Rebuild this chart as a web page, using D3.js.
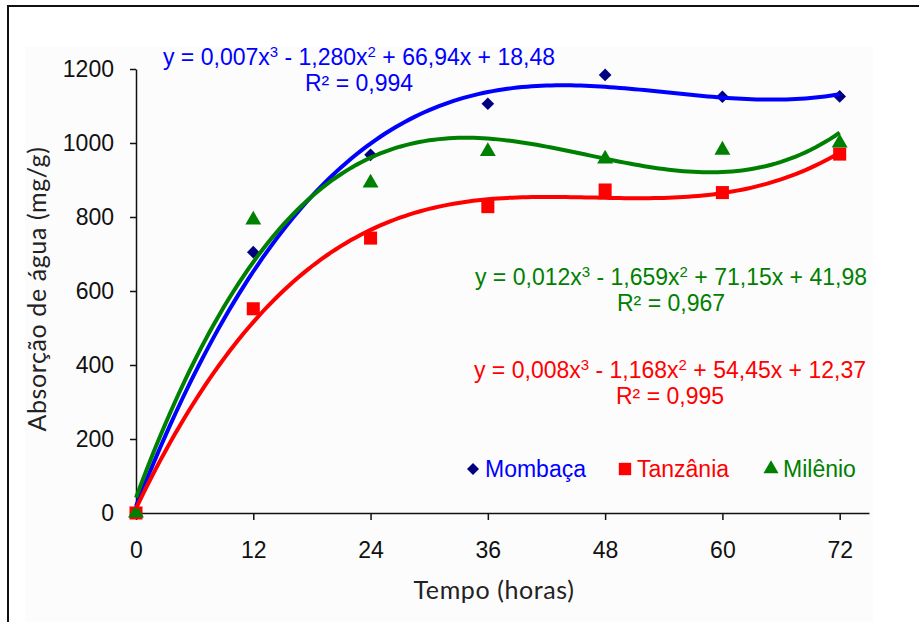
<!DOCTYPE html>
<html>
<head>
<meta charset="utf-8">
<script src="https://cdn.jsdelivr.net/npm/d3@7"></script>
<style>
  body { margin: 0; background: #fff; }
  text { font-family: "Liberation Sans", Arial, sans-serif; }
</style>
</head>
<body>
<div id="chart-area"></div>
<script>
// Data
const hours = [0, 12, 24, 36, 48, 60, 72]
const mombaca = [0, 705, 968, 1106, 1184, 1125, 1126]
const tanzania = [0, 552, 743, 828, 873, 866, 970]
const milenio = [0, 792, 892, 977, 957, 981, 1000]
const yTicks = [0, 200, 400, 600, 800, 1000, 1200]

const canvas = { width: 919, height: 622 }

const svg = d3.select('#chart-area')
  .append('svg')
    .attr('width', canvas.width)
    .attr('height', canvas.height)

// outer frame (runs off the right and bottom edges)
svg.append('rect')
  .attr('x', 8).attr('y', 6)
  .attr('width', 940).attr('height', 640)
  .attr('fill', '#fff')
  .attr('stroke', '#111')
  .attr('stroke-width', 2)
svg.append('rect')
  .attr('x', 25).attr('y', 47)
  .attr('width', 848).attr('height', 580)
  .attr('fill', '#fcfcfc')

// Scales
const x = d3.scaleLinear().domain([0, 75]).range([136, 869])
const y = d3.scaleLinear().domain([0, 1200]).range([513, 69])

// Axes
svg.append('g')
  .attr('transform', `translate(0, ${y(0)})`)
  .call(d3.axisBottom(x).tickValues(hours).tickSize(7).tickSizeOuter(0).tickPadding(22))
  .call(g => g.selectAll('text').attr('font-size', 23).attr('fill', '#111'))
svg.append('g')
  .attr('transform', `translate(${x(0)}, 0)`)
  .call(d3.axisLeft(y).tickValues(yTicks).tickFormat(d3.format('d')).tickSize(6).tickSizeOuter(0).tickPadding(16))
  .call(g => g.selectAll('text').attr('font-size', 23).attr('fill', '#111'))
svg.selectAll('.domain, .tick line').attr('stroke', '#111').attr('stroke-width', 1.5)

// Axis titles
svg.append('text')
  .attr('x', 494).attr('y', 599)
  .attr('text-anchor', 'middle')
  .attr('font-size', 25)
  .attr('letter-spacing', 0.6)
  .attr('fill', '#222')
  .style('font-family', 'Lato, sans-serif')
  .text('Tempo (horas)')
svg.append('text')
  .attr('transform', 'translate(46, 289) rotate(-90)')
  .attr('text-anchor', 'middle')
  .attr('font-size', 25)
  .attr('letter-spacing', 0.6)
  .attr('fill', '#222')
  .style('font-family', 'Lato, sans-serif')
  .text('Absorção de água (mg/g)')

// least squares cubic trend from the points
function cubicFit(xs, ys) {
  const n = 4
  const A = [], b = []
  for (let i = 0; i < n; i++) {
    A.push([])
    for (let j = 0; j < n; j++) A[i].push(d3.sum(xs, v => Math.pow(v, i + j)))
    b.push(d3.sum(xs, (v, k) => Math.pow(v, i) * ys[k]))
  }
  for (let c = 0; c < n; c++) {
    let p = c
    for (let r = c + 1; r < n; r++) if (Math.abs(A[r][c]) > Math.abs(A[p][c])) p = r;
    [A[c], A[p]] = [A[p], A[c]];
    [b[c], b[p]] = [b[p], b[c]]
    for (let r = c + 1; r < n; r++) {
      const f = A[r][c] / A[c][c]
      for (let k = c; k < n; k++) A[r][k] -= f * A[c][k]
      b[r] -= f * b[c]
    }
  }
  const coef = new Array(n).fill(0)
  for (let r = n - 1; r >= 0; r--) {
    let s = b[r]
    for (let k = r + 1; k < n; k++) s -= A[r][k] * coef[k]
    coef[r] = s / A[r][r]
  }
  return t => coef[0] + coef[1] * t + coef[2] * t * t + coef[3] * t * t * t
}

const series = [
  { name: 'Mombaça', values: mombaca, line: '#0000ff', mark: '#000080', symbol: d3.symbolSquare, rot: 45, size: 80,
    eq: ['0,007', '1,280', '66,94', '18,48'], r2: '0,994', ex: 359, ey: 65 },
  { name: 'Tanzânia', values: tanzania, line: '#ff0000', mark: '#ff0000', symbol: d3.symbolSquare, rot: 0, size: 170,
    eq: ['0,008', '1,168', '54,45', '12,37'], r2: '0,995', ex: 670, ey: 378 },
  { name: 'Milênio', values: milenio, line: '#008000', mark: '#008000', symbol: d3.symbolTriangle, rot: 0, size: 110,
    eq: ['0,012', '1,659', '71,15', '41,98'], r2: '0,967', ex: 671, ey: 285 }
]

// Markers
series.forEach(s => {
  svg.append('g').selectAll('path')
    .data(hours)
    .enter().append('path')
      .attr('transform', (d, i) => `translate(${x(d)}, ${y(s.values[i])}) rotate(${s.rot})`)
      .attr('d', d3.symbol().type(s.symbol).size(s.size))
      .attr('fill', s.mark)
})

// Trend lines
const line = d3.line().x(d => x(d[0])).y(d => y(d[1]))
series.forEach(s => {
  const f = cubicFit(hours, s.values)
  const pts = d3.range(0, 72.01, 0.5).map(t => [t, f(t)])
  svg.append('path')
    .attr('d', line(pts))
    .attr('fill', 'none')
    .attr('stroke', s.line)
    .attr('stroke-width', 4)
})

// Equations
series.forEach(s => {
  const t = svg.append('text')
    .attr('x', s.ex).attr('y', s.ey)
    .attr('text-anchor', 'middle')
    .attr('font-size', 23)
    .attr('fill', s.line)
  t.append('tspan').text(`y = ${s.eq[0]}x`)
  t.append('tspan').attr('font-size', 15).attr('dy', -8).text('3')
  t.append('tspan').attr('dy', 8).text(` - ${s.eq[1]}x`)
  t.append('tspan').attr('font-size', 15).attr('dy', -8).text('2')
  t.append('tspan').attr('dy', 8).text(` + ${s.eq[2]}x + ${s.eq[3]}`)
  svg.append('text')
    .attr('x', s.ex).attr('y', s.ey + 26)
    .attr('text-anchor', 'middle')
    .attr('font-size', 23)
    .attr('fill', s.line)
    .text(`R² = ${s.r2}`)
})

// Legend
const legendX = [473, 625, 771]
series.forEach((s, i) => {
  svg.append('path')
    .attr('transform', `translate(${legendX[i]}, 469) rotate(${s.rot})`)
    .attr('d', d3.symbol().type(s.symbol).size(s.size * 0.9))
    .attr('fill', s.mark)
  svg.append('text')
    .attr('x', legendX[i] + 12).attr('y', 477)
    .attr('font-size', 23)
    .attr('fill', s.line)
    .text(s.name)
})
</script>
</body>
</html>
